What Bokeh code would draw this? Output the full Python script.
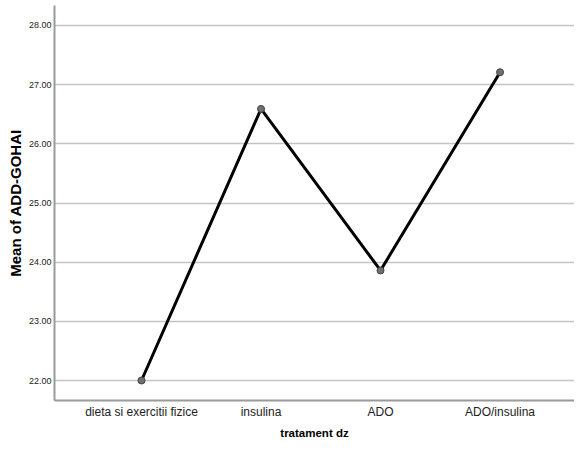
from bokeh.plotting import figure
from bokeh.models import FixedTicker, ColumnDataSource
from bokeh.embed import file_html
from bokeh.resources import INLINE

categories = ["dieta si exercitii fizice", "insulina", "ADO", "ADO/insulina"]
means = [22.0, 26.59, 23.86, 27.21]
y_ticks = [22, 23, 24, 25, 26, 27, 28]
y_tick_labels = ["22.00", "23.00", "24.00", "25.00", "26.00", "27.00", "28.00"]

xs = list(range(len(categories)))
src = ColumnDataSource(dict(x=xs, y=means, cat=categories))

NARROW = "'Liberation Sans Narrow', 'Arial Narrow', 'Liberation Sans', sans-serif"
BOLD = "'Liberation Sans', Arial, sans-serif"

p = figure(width=574, height=443, output_backend="svg", toolbar_location=None,
           x_range=(-0.728, 3.623), y_range=(21.662, 28.338),
           min_border_left=54, min_border_right=0, min_border_top=5, min_border_bottom=43)
p.outline_line_color = None
p.background_fill_color = "white"
p.border_fill_color = "white"

p.line("x", "y", source=src, line_color="black", line_width=3)
p.scatter("x", "y", source=src, size=7, fill_color="#707070", line_color="#404040", line_width=1)

# x axis
p.xaxis.ticker = FixedTicker(ticks=xs)
p.xaxis.major_label_overrides = {i: c for i, c in enumerate(categories)}
p.xaxis.major_tick_line_color = None
p.xaxis.major_tick_out = 0
p.xaxis.major_tick_in = 0
p.xaxis.minor_tick_line_color = None
p.xaxis.minor_tick_out = 0
p.xaxis.axis_line_color = "#9a9a9a"
p.xaxis.axis_line_width = 2
p.xaxis.major_label_text_font = NARROW
p.xaxis.major_label_text_font_size = "12px"
p.xaxis.major_label_text_color = "#222222"
p.xaxis.major_label_standoff = 4
p.xaxis.axis_label = "tratament dz"
p.xaxis.axis_label_text_font = BOLD
p.xaxis.axis_label_text_font_style = "bold"
p.xaxis.axis_label_text_font_size = "11.5px"
p.xaxis.axis_label_text_color = "black"
p.xaxis.axis_label_standoff = 5

# y axis
p.yaxis.ticker = FixedTicker(ticks=y_ticks)
p.yaxis.major_label_overrides = {t: l for t, l in zip(y_ticks, y_tick_labels)}
p.yaxis.major_tick_line_color = None
p.yaxis.major_tick_out = 0
p.yaxis.major_tick_in = 0
p.yaxis.minor_tick_line_color = None
p.yaxis.minor_tick_out = 0
p.yaxis.axis_line_color = "#9a9a9a"
p.yaxis.axis_line_width = 2
p.yaxis.major_label_text_font = NARROW
p.yaxis.major_label_text_font_size = "9px"
p.yaxis.major_label_text_color = "#222222"
p.yaxis.major_label_standoff = 3
p.yaxis.axis_label = "Mean of ADD-GOHAI"
p.yaxis.axis_label_text_font = BOLD
p.yaxis.axis_label_text_font_style = "bold"
p.yaxis.axis_label_text_font_size = "15px"
p.yaxis.axis_label_text_color = "black"
p.yaxis.axis_label_standoff = 2

p.xgrid.grid_line_color = None
p.ygrid.ticker = FixedTicker(ticks=y_ticks)
p.ygrid.grid_line_color = "#c4c4c4"
p.ygrid.grid_line_width = 1.5

open("out.html", "w").write(file_html(p, INLINE))
